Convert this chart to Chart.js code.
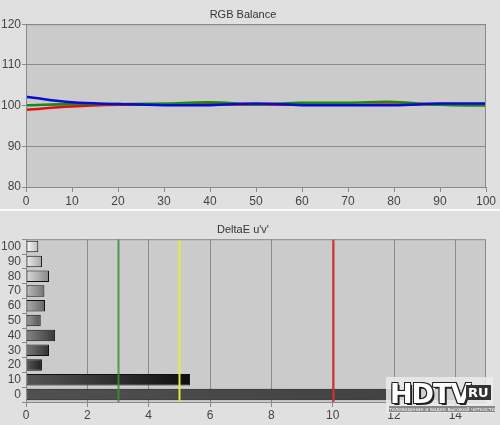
<!DOCTYPE html>
<html>
<head>
<meta charset="utf-8">
<script src="https://cdn.jsdelivr.net/npm/chart.js@4/dist/chart.umd.min.js"></script>
<style>
  body { margin: 0; background: #e0e0e0; width: 500px; height: 425px; overflow: hidden; position: relative; font-family: "Liberation Sans", sans-serif; }
  #rgbWrap { position: absolute; left: 0; top: 0; width: 500px; height: 208px; }
  #sep { position: absolute; left: 0; top: 209px; width: 500px; height: 2px; background: #fafafa; }
  #deWrap { position: absolute; left: 0; top: 212px; width: 500px; height: 213px; }
  #logo { position: absolute; left: 386px; top: 377px; width: 107px; height: 36px; background: rgba(235,235,235,0.85); }
  #logo .big { position: absolute; left: 4px; top: 1px; font: bold 27px "DejaVu Sans", sans-serif; color: #fff; letter-spacing: -1px;
    text-shadow: 1px 1px 0 #222, -1px -1px 0 #222, 1px -1px 0 #222, -1px 1px 0 #222, 2px 2px 0 #222; }
  #logo .ru { position: absolute; left: 80px; top: 8px; font: bold 13px "DejaVu Sans", sans-serif; color: #fff; background: #333; padding: 0 2px; }
  #logo .sub { position: absolute; left: 3px; top: 29px; font: 5px "DejaVu Sans", sans-serif; color: #fff; background: #888; white-space: nowrap; }
</style>
</head>
<body>
<div id="rgbWrap"><canvas id="rgbChart"></canvas></div>
<div id="sep"></div>
<div id="deWrap"><canvas id="deChart"></canvas></div>
<div id="logo"><span class="big">HDTV</span><span class="ru">RU</span><span class="sub">телевидение и видео высокой четкости</span></div>
<script>
// RGB balance readings, percent of target, at each stimulus level
const levels = [0, 10, 20, 30, 40, 50, 60, 70, 80, 90, 100];
const redValues = [99.0, 99.8, 100.2, 100.3, 100.4, 100.3, 100.3, 100.2, 100.3, 100.4, 100.3];
const greenValues = [100.1, 100.4, 100.4, 100.5, 100.8, 100.3, 100.7, 100.7, 100.9, 100.2, 100.0];
const blueValues = [102.2, 100.8, 100.4, 100.1, 100.1, 100.5, 100.1, 100.1, 100.1, 100.5, 100.5];
const rgbTicks = [80, 90, 100, 110, 120];

// DeltaE u'v' per grey level (top to bottom: 100 .. 0)
const deCategories = ['100', '90', '80', '70', '60', '50', '40', '30', '20', '10', '0'];
const deValues = [0.4, 0.52, 0.75, 0.6, 0.62, 0.48, 0.95, 0.75, 0.52, 5.35, 15.3];
const deTicks = [0, 2, 4, 6, 8, 10, 12, 14];
const thresholds = [3, 5, 10];

// bar shading: [left grey, right grey] per category
const barShades = [
    [255, 185], [238, 165], [220, 135], [190, 115], [175, 100], [155, 85],
    [135, 55], [120, 50], [90, 30], [85, 15], [80, 62]
];
const thresholdColors = ['rgba(60,140,60,0.85)', '#e8e840', '#d83030'];

const axisFont = { family: 'Liberation Sans', size: 12 };
const textColor = '#444';
const gridColor = '#8a8a8a';

// fills the plot area and draws its frame
const plotBackground = {
    id: 'plotBackground',
    beforeDraw(chart) {
        const a = chart.chartArea;
        const c = chart.ctx;
        c.save();
        c.fillStyle = '#cbcbcb';
        c.fillRect(a.left, a.top, a.right - a.left, a.bottom - a.top);
        c.restore();
    },
    afterDraw(chart) {
        const a = chart.chartArea;
        const c = chart.ctx;
        c.save();
        c.strokeStyle = gridColor;
        c.lineWidth = 1;
        c.strokeRect(a.left + 0.5, a.top + 0.5, a.right - a.left - 1, a.bottom - a.top);
        c.restore();
    }
};

// vertical threshold lines on the DeltaE chart
const thresholdLines = {
    id: 'thresholdLines',
    afterDatasetsDraw(chart) {
        const a = chart.chartArea;
        const c = chart.ctx;
        const xs = chart.scales.x;
        c.save();
        thresholds.forEach((t, i) => {
            const x = Math.round(xs.getPixelForValue(t)) + 0.5;
            c.strokeStyle = thresholdColors[i];
            c.lineWidth = 2;
            c.beginPath();
            c.moveTo(x, a.top);
            c.lineTo(x, a.bottom);
            c.stroke();
        });
        c.restore();
    }
};

// order: lower numbers are drawn on top (blue over green over red)
function rgbSet(label, data, color, order) {
    return {
        label: label,
        data: data,
        borderColor: color,
        borderWidth: 2.5,
        pointRadius: 0,
        tension: 0.4,
        fill: false,
        order: order
    };
}

new Chart(document.getElementById('rgbChart'), {
    type: 'line',
    data: {
        labels: levels,
        datasets: [
            rgbSet('Red', redValues, '#e01010', 3),
            rgbSet('Green', greenValues, '#188a18', 2),
            rgbSet('Blue', blueValues, '#0a0ad0', 1)
        ]
    },
    options: {
        responsive: true,
        maintainAspectRatio: false,
        animation: false,
        layout: { padding: { left: 0, right: 14, top: 0, bottom: 0 } },
        plugins: {
            legend: { display: false },
            tooltip: { enabled: false },
            title: {
                display: true,
                text: 'RGB Balance',
                color: '#333',
                font: { family: 'Liberation Sans', size: 11, weight: 'normal' },
                padding: { top: 8, bottom: 3 }
            }
        },
        scales: {
            x: {
                type: 'linear',
                min: 0,
                max: 100,
                afterBuildTicks: s => { s.ticks = levels.map(v => ({ value: v })); },
                afterFit: s => { s.height = 21; },
                grid: { drawOnChartArea: false, color: gridColor, tickLength: 5 },
                border: { display: false },
                ticks: { color: textColor, font: axisFont, padding: 2, maxRotation: 0 }
            },
            y: {
                min: 80,
                max: 120,
                afterBuildTicks: s => { s.ticks = rgbTicks.map(v => ({ value: v })); },
                afterFit: s => { s.width = 26; },
                grid: { color: gridColor, tickLength: 4 },
                border: { display: false },
                ticks: { color: textColor, font: axisFont, padding: 1 }
            }
        }
    },
    plugins: [plotBackground]
});

new Chart(document.getElementById('deChart'), {
    type: 'bar',
    data: {
        labels: deCategories,
        datasets: [{
            label: "DeltaE u'v'",
            data: deValues,
            backgroundColor: function (ctx) {
                const chart = ctx.chart;
                if (!chart.chartArea) return '#888';
                const xs = chart.scales.x;
                const x0 = xs.getPixelForValue(0);
                const x1 = xs.getPixelForValue(Math.min(ctx.raw, 15));
                const s = barShades[ctx.dataIndex];
                const g = chart.ctx.createLinearGradient(x0, 0, x1, 0);
                g.addColorStop(0, `rgb(${s[0]},${s[0]},${s[0]})`);
                g.addColorStop(1, `rgb(${s[1]},${s[1]},${s[1]})`);
                return g;
            },
            borderColor: '#111',
            borderWidth: 1,
            borderSkipped: false,
            barPercentage: 0.78,
            categoryPercentage: 1
        }]
    },
    options: {
        indexAxis: 'y',
        responsive: true,
        maintainAspectRatio: false,
        animation: false,
        layout: { padding: { left: 0, right: 14, top: 0, bottom: 0 } },
        plugins: {
            legend: { display: false },
            tooltip: { enabled: false },
            title: {
                display: true,
                text: "DeltaE u'v'",
                color: '#333',
                font: { family: 'Liberation Sans', size: 11, weight: 'normal' },
                padding: { top: 11, bottom: 3 }
            }
        },
        scales: {
            x: {
                type: 'linear',
                min: 0,
                max: 15,
                afterBuildTicks: s => { s.ticks = deTicks.map(v => ({ value: v })); },
                afterFit: s => { s.height = 23; },
                grid: { color: gridColor, tickLength: 5 },
                border: { display: false },
                ticks: { color: textColor, font: axisFont, padding: 1, maxRotation: 0 }
            },
            y: {
                afterFit: s => { s.width = 26; },
                grid: { offset: true, drawOnChartArea: false, color: gridColor, tickLength: 4 },
                border: { display: false },
                ticks: { color: textColor, font: axisFont, padding: 1, autoSkip: false }
            }
        }
    },
    plugins: [plotBackground, thresholdLines]
});
</script>
</body>
</html>
